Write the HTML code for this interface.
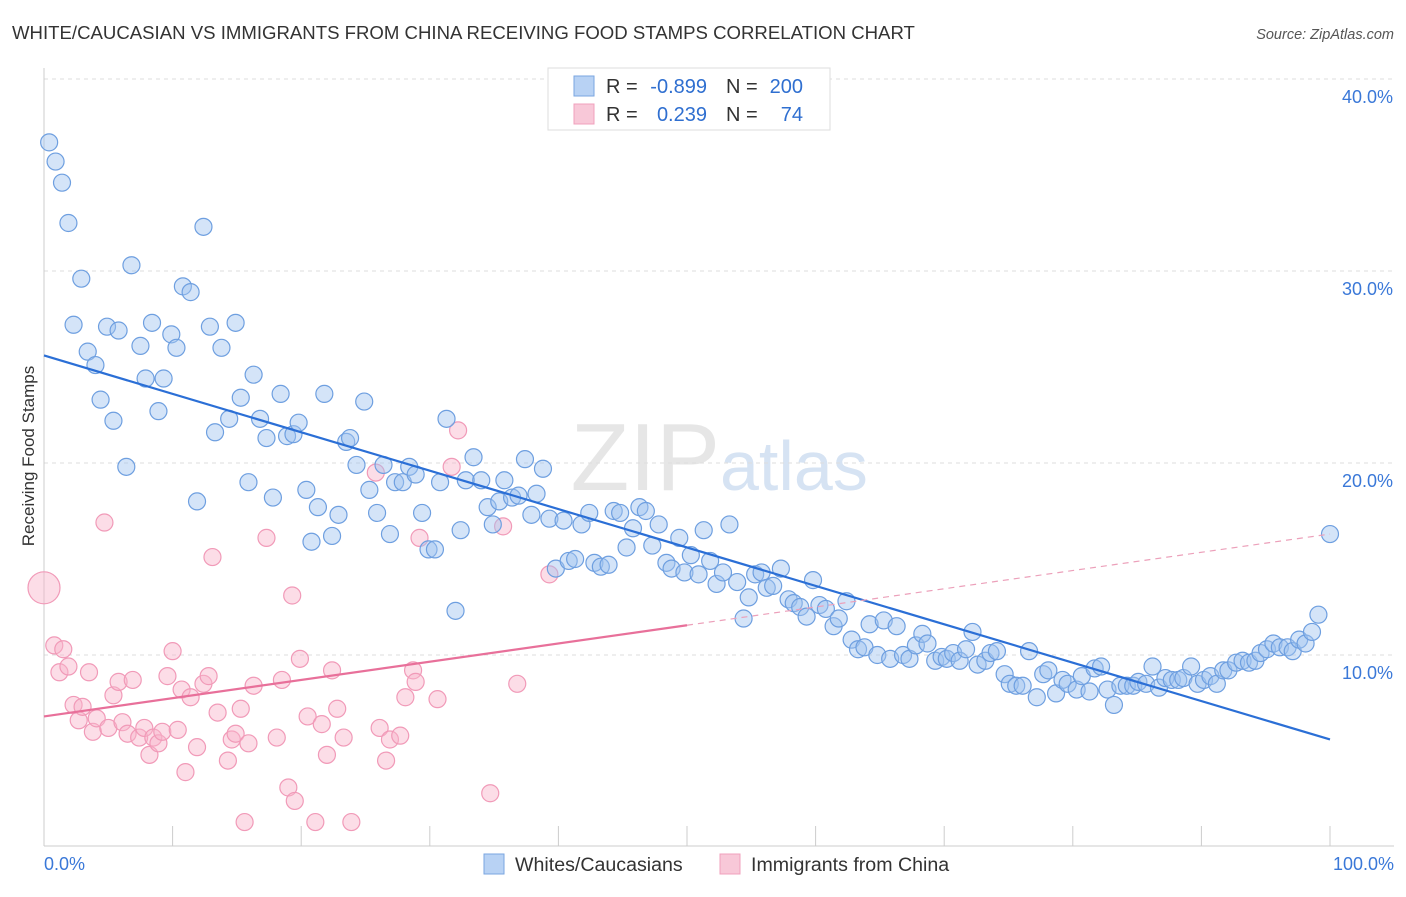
<!DOCTYPE html>
<html><head><meta charset="utf-8"><style>
body{margin:0;background:#fff;font-family:"Liberation Sans",sans-serif;}
svg text{font-family:"Liberation Sans",sans-serif;}
</style></head><body>
<svg id="chart" width="1406" height="892">
<text x="12" y="39" font-size="18.6" fill="#333">WHITE/CAUCASIAN VS IMMIGRANTS FROM CHINA RECEIVING FOOD STAMPS CORRELATION CHART</text>
<text x="1394" y="39" font-size="14.5" fill="#555" font-style="italic" text-anchor="end">Source: ZipAtlas.com</text>
<text x="0" y="0" transform="translate(34,456) rotate(-90)" font-size="17" fill="#333" text-anchor="middle">Receiving Food Stamps</text>
<text x="720" y="490" font-size="96" fill="#e6e6e6" font-family="Liberation Serif" text-anchor="end">ZIP</text>
<text x="720" y="490" font-size="70" fill="#d6e3f3">atlas</text>
<g id="grid"></g><g id="marks"></g>
<g>
<rect x="548" y="68" width="282" height="62" fill="#fff" stroke="#ddd"/>
<rect x="574" y="76" width="20" height="20" fill="#b8d2f4" stroke="#7aa6e0"/>
<rect x="574" y="104" width="20" height="20" fill="#f8c8d8" stroke="#f0a0bc"/>
<text x="606" y="93" font-size="20" fill="#333">R =</text>
<text x="707" y="93" font-size="20" fill="#2f6fd0" text-anchor="end">-0.899</text>
<text x="726" y="93" font-size="20" fill="#333">N =</text>
<text x="803" y="93" font-size="20" fill="#2f6fd0" text-anchor="end">200</text>
<text x="606" y="121" font-size="20" fill="#333">R =</text>
<text x="707" y="121" font-size="20" fill="#2f6fd0" text-anchor="end">0.239</text>
<text x="726" y="121" font-size="20" fill="#333">N =</text>
<text x="803" y="121" font-size="20" fill="#2f6fd0" text-anchor="end">74</text>
</g>
<g>
<rect x="484" y="854" width="20" height="20" fill="#b8d2f4" stroke="#7aa6e0"/>
<text x="515" y="871" font-size="19.6" fill="#333">Whites/Caucasians</text>
<rect x="720" y="854" width="20" height="20" fill="#f8c8d8" stroke="#f0a0bc"/>
<text x="751" y="871" font-size="19.6" fill="#333">Immigrants from China</text>
</g>
</svg>
<script>
const blueX=[0.4,0.9,1.4,1.9,2.9,2.3,3.4,4.0,4.4,4.9,5.4,5.8,6.4,6.8,7.5,7.9,8.4,8.9,9.3,9.9,10.3,10.8,11.4,11.9,12.4,12.9,13.3,13.8,14.4,14.9,15.3,15.9,16.3,16.8,17.3,17.8,18.4,18.9,19.4,19.8,20.4,20.8,21.3,21.8,22.4,22.9,23.5,23.8,24.3,24.9,25.3,25.9,26.4,26.9,27.3,27.9,28.4,28.9,29.4,29.9,30.4,30.8,31.3,32.0,32.4,32.8,33.4,34.0,34.5,34.9,35.4,35.8,36.4,36.9,37.4,37.9,38.3,38.8,39.3,39.8,40.4,40.8,41.3,41.8,42.4,42.8,43.3,43.9,44.3,44.8,45.3,45.8,46.3,46.8,47.3,47.8,48.4,48.8,49.4,49.8,50.3,50.9,51.3,51.8,52.3,52.8,53.3,53.9,54.4,54.8,55.3,55.8,56.2,56.7,57.3,57.9,58.3,58.8,59.3,59.8,60.3,60.8,61.4,61.8,62.4,62.8,63.3,63.8,64.2,64.8,65.3,65.8,66.3,66.8,67.3,67.8,68.3,68.7,69.3,69.8,70.2,70.7,71.2,71.7,72.2,72.6,73.2,73.6,74.1,74.7,75.1,75.6,76.1,76.6,77.2,77.7,78.1,78.7,79.2,79.6,80.3,80.7,81.3,81.7,82.2,82.7,83.2,83.7,84.2,84.7,85.1,85.7,86.2,86.7,87.2,87.7,88.2,88.6,89.2,89.7,90.2,90.7,91.2,91.7,92.1,92.7,93.2,93.7,94.2,94.6,95.1,95.6,96.1,96.7,97.1,97.6,98.1,98.6,99.1,100];
const blueY=[36.7,35.7,34.6,32.5,29.6,27.2,25.8,25.1,23.3,27.1,22.2,26.9,19.8,30.3,26.1,24.4,27.3,22.7,24.4,26.7,26.0,29.2,28.9,18.0,32.3,27.1,21.6,26.0,22.3,27.3,23.4,19.0,24.6,22.3,21.3,18.2,23.6,21.4,21.5,22.1,18.6,15.9,17.7,23.6,16.2,17.3,21.1,21.3,19.9,23.2,18.6,17.4,19.9,16.3,19.0,19.0,19.8,19.4,17.4,15.5,15.5,19.0,22.3,12.3,16.5,19.1,20.3,19.1,17.7,16.8,18.0,19.1,18.2,18.3,20.2,17.3,18.4,19.7,17.1,14.5,17.0,14.9,15.0,16.8,17.4,14.8,14.6,14.7,17.5,17.4,15.6,16.6,17.7,17.5,15.7,16.8,14.8,14.5,16.1,14.3,15.2,14.2,16.5,14.9,13.7,14.3,16.8,13.8,11.9,13.0,14.2,14.3,13.5,13.6,14.5,12.9,12.7,12.5,12.0,13.9,12.6,12.4,11.5,11.9,12.8,10.8,10.3,10.4,11.6,10.0,11.8,9.8,11.5,10.0,9.8,10.5,11.1,10.6,9.7,9.9,9.8,10.1,9.7,10.3,11.2,9.5,9.7,10.1,10.2,9.0,8.5,8.4,8.4,10.2,7.8,9.0,9.2,8.0,8.7,8.5,8.2,8.9,8.1,9.3,9.4,8.2,7.4,8.4,8.4,8.4,8.6,8.5,9.4,8.3,8.8,8.7,8.7,8.8,9.4,8.5,8.7,8.9,8.5,9.2,9.2,9.6,9.7,9.6,9.7,10.1,10.3,10.6,10.4,10.4,10.2,10.8,10.6,11.2,12.1,16.3];
const pinkX=[0,0.8,1.2,1.5,1.9,2.3,2.7,3.0,3.5,3.8,4.1,4.7,5.0,5.4,5.8,6.1,6.5,6.9,7.4,7.8,8.2,8.5,8.9,9.2,9.6,10.0,10.4,10.7,11.0,11.4,11.9,12.4,12.8,13.1,13.5,14.3,14.6,14.9,15.3,15.6,15.9,16.3,17.3,18.1,18.5,19.0,19.3,19.5,19.9,20.5,21.1,21.6,22.0,22.4,22.8,23.3,23.9,25.8,26.1,26.6,26.9,27.7,28.1,28.7,28.9,29.2,30.6,31.7,32.2,34.7,35.7,36.8,39.3];
const pinkY=[13.5,10.5,9.1,10.3,9.4,7.4,6.6,7.3,9.1,6.0,6.7,16.9,6.2,7.9,8.6,6.5,5.9,8.7,5.7,6.2,4.8,5.7,5.4,6.0,8.9,10.2,6.1,8.2,3.9,7.8,5.2,8.5,8.9,15.1,7.0,4.5,5.6,5.9,7.2,1.3,5.4,8.4,16.1,5.7,8.7,3.1,13.1,2.4,9.8,6.8,1.3,6.4,4.8,9.2,7.2,5.7,1.3,19.5,6.2,4.5,5.6,5.8,7.8,9.2,8.6,16.1,7.7,19.8,21.7,2.8,16.7,8.5,14.2];
const blueTrend=[25.6,5.6];
const pinkTrend=[6.8,16.3];
const yTicks=[10,20,30,40];
const xTicks=[0,10,20,30,40,50,60,70,80,90,100];
const X0=44,X1=1330,Y0=847,PPY=19.2;
const sx=v=>X0+(X1-X0)*v/100, sy=v=>Y0-v*PPY;
const NS="http://www.w3.org/2000/svg";
const grid=document.getElementById('grid'), marks=document.getElementById('marks');
function mk(tag,attrs,parent){const e=document.createElementNS(NS,tag);for(const k in attrs)e.setAttribute(k,attrs[k]);parent.appendChild(e);return e;}
yTicks.forEach(t=>{
  const l=mk('line',{x1:44,x2:1394,y1:sy(t),y2:sy(t),stroke:'#ddd','stroke-dasharray':'4,4'},grid);
  
  
  const tx=mk('text',{x:1393,y:sy(t)+24,'font-size':18,fill:'#3a78d8','text-anchor':'end'},grid);
  tx.textContent=t.toFixed(1)+'%';
  
  
});
const ax=mk('line',{x1:44,x2:1394,y1:846,y2:846,stroke:'#ccc'},grid);


const ay=mk('line',{x1:44,x2:44,y1:68,y2:846,stroke:'#ccc'},grid);


xTicks.forEach(t=>{
  const l=mk('line',{x1:sx(t),x2:sx(t),y1:826,y2:846,stroke:'#ccc'},grid);
  
  
});
[[0,'0.0%','start',44],[100,'100.0%','end',1394]].forEach(d=>{
  const tx=mk('text',{x:d[3],y:870,'font-size':18,fill:'#3a78d8','text-anchor':d[2]},grid);
  tx.textContent=d[1];
  
  
});
pinkX.forEach((x,i)=>{
  const c=mk('circle',{cx:sx(x),cy:sy(pinkY[i]),r:i===0?16:8.5,fill:'rgba(248,180,202,0.45)',stroke:'#f19ab8','stroke-width':1.2},marks);
  
  
});
blueX.forEach((x,i)=>{
  const c=mk('circle',{cx:sx(x),cy:sy(blueY[i]),r:8.5,fill:'rgba(160,196,240,0.45)',stroke:'#6e9fe0','stroke-width':1.2},marks);
  
  
});
const bl=mk('line',{x1:sx(0),y1:sy(blueTrend[0]),x2:sx(100),y2:sy(blueTrend[1]),stroke:'#2b6fd6','stroke-width':2.2},marks);


const pm=pinkTrend[0]+(pinkTrend[1]-pinkTrend[0])*0.5;
const pl=mk('line',{x1:sx(0),y1:sy(pinkTrend[0]),x2:sx(50),y2:sy(pm),stroke:'#e8709a','stroke-width':2.2},marks);


const pd=mk('line',{x1:sx(50),y1:sy(pm),x2:sx(100),y2:sy(pinkTrend[1]),stroke:'#eca0ba','stroke-width':1.2,'stroke-dasharray':'6,5'},marks);


</script>
</body></html>
